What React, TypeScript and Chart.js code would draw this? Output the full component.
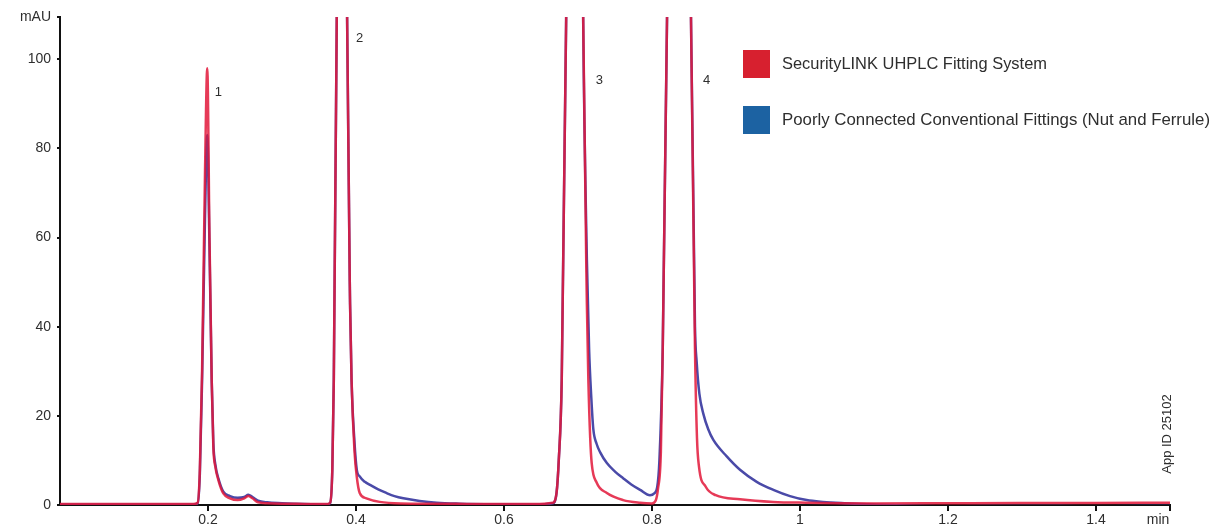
import React, { useEffect, useRef } from 'react';
import { Chart, registerables } from 'chart.js';

Chart.register(...registerables);

const seriesNames = [
  'SecurityLINK UHPLC Fitting System',
  'Poorly Connected Conventional Fittings (Nut and Ferrule)',
];

const redTimes = [
  0, 0.1, 0.18, 0.186, 0.189, 0.192, 0.196, 0.199, 0.202, 0.205, 0.2072, 0.21, 0.214, 0.2207, 0.2297,
  0.24, 0.249, 0.2545, 0.26, 0.2676, 0.28, 0.3, 0.33, 0.36, 0.365, 0.368, 0.37, 0.374, 0.381, 0.388,
  0.392, 0.394, 0.398, 0.401, 0.405, 0.414, 0.432, 0.46, 0.55, 0.64, 0.666, 0.671, 0.674, 0.678, 0.684,
  0.695, 0.707, 0.712, 0.714, 0.7165, 0.7185, 0.7253, 0.739, 0.761, 0.784, 0.8, 0.805, 0.808, 0.812,
  0.8145, 0.8203, 0.8365, 0.8527, 0.8581, 0.8608, 0.8635, 0.8726, 0.8861, 0.9189, 0.9635, 1.009, 1.05,
  1.1, 1.2, 1.3, 1.4, 1.5,
];
const redValues = [
  0.2, 0.2, 0.2, 0.5, 8, 30, 75, 98, 60, 28, 13, 8.5, 5.6, 2.6, 1.5,
  1.1, 1.5, 2.0, 1.5, 0.6, 0.4, 0.3, 0.25, 0.2, 0.5, 8, 28, 109, 350, 109,
  45, 28, 12, 6.4, 2.7, 1.5, 0.7, 0.35, 0.25, 0.2, 0.5, 2.7, 10, 28, 109,
  400, 109, 45, 28, 15, 9.4, 5, 2.7, 1.1, 0.5, 0.35, 1, 3.5, 12,
  35, 109, 400, 109, 35, 15, 8.6, 4.1, 2.2, 1.3, 0.7, 0.5, 0.4,
  0.35, 0.4, 0.45, 0.45, 0.5,
];

const blueTimes = [
  0, 0.1, 0.18, 0.186, 0.189, 0.192, 0.196, 0.199, 0.202, 0.205, 0.2072, 0.21, 0.214, 0.2207, 0.2297,
  0.24, 0.249, 0.2545, 0.26, 0.2676, 0.28, 0.3, 0.33, 0.36, 0.365, 0.368, 0.37, 0.374, 0.381, 0.388,
  0.392, 0.394, 0.398, 0.401, 0.405, 0.412, 0.419, 0.43, 0.441, 0.452, 0.464, 0.486, 0.509, 0.54, 0.6,
  0.64, 0.666, 0.671, 0.674, 0.678, 0.684, 0.695, 0.707, 0.712, 0.715, 0.718, 0.7207, 0.725, 0.73, 0.739,
  0.75, 0.761, 0.772, 0.784, 0.7973, 0.803, 0.807, 0.81, 0.8145, 0.8203, 0.8365, 0.8527, 0.8581,
  0.8604, 0.864, 0.8693, 0.876, 0.8829, 0.901, 0.9189, 0.9415, 0.964, 0.9865, 1.009, 1.031, 1.06, 1.1,
  1.2, 1.3, 1.4, 1.5,
];
const blueValues = [
  0.1, 0.1, 0.1, 0.4, 7, 28, 65, 83, 58, 28, 14, 9, 6, 3, 2,
  1.6, 1.8, 2.3, 1.8, 1.0, 0.6, 0.4, 0.2, 0.1, 0.4, 8, 28, 109, 350, 109,
  45, 28, 14, 8, 6.4, 5.2, 4.5, 3.5, 2.7, 2, 1.5, 0.9, 0.5, 0.3, 0.15,
  0.1, 0.4, 2.7, 10, 28, 109, 400, 109, 55, 35, 24, 17, 13.8, 11.8, 9.4,
  7.5, 6, 4.6, 3.4, 2.2, 2.6, 4, 10, 35, 109, 400, 109, 40,
  32, 25, 20.5, 17, 14.6, 10.9, 7.9, 5.2, 3.4, 2.0, 1.1, 0.7, 0.4, 0.1,
  -0.3, -0.2, -0.3, -0.2,
];

const xTickValues = [0.2, 0.4, 0.6, 0.8, 1.0, 1.2, 1.4, 1.5];
const xMaxLabel = 'min';
const yTickValues = [0, 20, 40, 60, 80, 100, 109.5];
const yMaxLabel = 'mAU';

const peakNames = ['1', '2', '3', '4'];
const peakLabelTimes = [0.209, 0.4, 0.724, 0.869];
const peakLabelValues = [92.5, 104.7, 95.3, 95.3];

const noteText = 'App ID 25102';

const LINE_RED = 'rgba(226, 24, 58, 0.85)';
const LINE_BLUE = '#4a4aa8';
const LEGEND_COLORS = ['#d7202f', '#1c62a2'];
const TEXT = '#2e2e2e';
const FONT = '"Liberation Sans", Arial, sans-serif';
const NARROW = '"Liberation Sans Narrow", "Liberation Sans", Arial, sans-serif';

const overlay = {
  id: 'overlay',
  afterDraw(chart: any) {
    const { ctx } = chart;
    const x = chart.scales.x;
    const y = chart.scales.y;
    ctx.save();
    ctx.fillStyle = TEXT;
    ctx.font = `13px ${FONT}`;
    ctx.textAlign = 'left';
    ctx.textBaseline = 'middle';
    peakNames.forEach((n, i) => {
      ctx.fillText(n, x.getPixelForValue(peakLabelTimes[i]), y.getPixelForValue(peakLabelValues[i]));
    });

    // axis end unit label
    ctx.textAlign = 'center';
    ctx.textBaseline = 'top';
    ctx.font = `14px ${FONT}`;
    ctx.fillText(xMaxLabel, x.getPixelForValue(x.max) - 12, y.bottom + 8);

    const rows = [64, 120];
    const widths = [265, 428];
    ctx.textAlign = 'left';
    ctx.textBaseline = 'middle';
    chart.data.datasets.forEach((ds: any, i: number) => {
      ctx.fillStyle = LEGEND_COLORS[i];
      ctx.fillRect(743, rows[i] - 14, 27, 28);
      ctx.fillStyle = TEXT;
      ctx.font = `17px ${NARROW}`;
      ctx.fillText(ds.label, 782, rows[i], widths[i]);
    });

    ctx.translate(1167, 434);
    ctx.rotate(-Math.PI / 2);
    ctx.textAlign = 'center';
    ctx.font = `13px ${NARROW}`;
    ctx.fillText(noteText, 0, 0, 88);
    ctx.restore();
  },
};

export default function App() {
  const canvasRef = useRef<HTMLCanvasElement | null>(null);

  useEffect(() => {
    document.body.style.margin = '0';
    const canvas = canvasRef.current;
    if (!canvas) return;

    const chart = new Chart(canvas, {
      type: 'line',
      data: {
        datasets: [
          {
            label: seriesNames[0],
            data: redTimes.map((t, i) => ({ x: t, y: redValues[i] })),
            borderColor: LINE_RED,
            backgroundColor: LINE_RED,
            borderWidth: 2.5,
            pointRadius: 0,
            cubicInterpolationMode: 'monotone',
          },
          {
            label: seriesNames[1],
            data: blueTimes.map((t, i) => ({ x: t, y: blueValues[i] })),
            borderColor: LINE_BLUE,
            backgroundColor: LINE_BLUE,
            borderWidth: 2.5,
            pointRadius: 0,
            cubicInterpolationMode: 'monotone',
          },
        ],
      },
      options: {
        animation: false,
        responsive: true,
        maintainAspectRatio: false,
        layout: { padding: { top: 17, right: 43, bottom: 0, left: 0 } },
        plugins: { legend: { display: false }, tooltip: { enabled: false } },
        scales: {
          x: {
            type: 'linear',
            min: 0,
            max: 1.5,
            afterBuildTicks: (s: any) => {
              s.ticks = xTickValues.map((v) => ({ value: v }));
            },
            afterFit: (s: any) => {
              s.height = 26;
            },
            ticks: {
              autoSkip: false,
              maxRotation: 0,
              padding: 1,
              color: TEXT,
              font: { family: FONT, size: 14 },
              callback: (v: any) => (v === 1.5 ? '' : String(Number(Number(v).toFixed(1)))),
            },
            grid: { display: true, drawOnChartArea: false, drawTicks: true, tickLength: 6, color: '#111', lineWidth: 2 },
            border: { display: true, color: '#111', width: 2 },
          },
          y: {
            type: 'linear',
            min: 0,
            max: 109.5,
            afterBuildTicks: (s: any) => {
              s.ticks = yTickValues.map((v) => ({ value: v }));
            },
            afterFit: (s: any) => {
              s.width = 60;
            },
            ticks: {
              autoSkip: false,
              padding: 6,
              color: TEXT,
              font: { family: FONT, size: 14 },
              callback: (v: any) => (v === 109.5 ? yMaxLabel : String(v)),
            },
            grid: { display: true, drawOnChartArea: false, drawTicks: true, tickLength: 3, color: '#111', lineWidth: 2 },
            border: { display: true, color: '#111', width: 2 },
          },
        },
      } as any,
      plugins: [overlay],
    });

    return () => chart.destroy();
  }, []);

  return (
    <div style={{ width: 1213, height: 531, position: 'relative', background: '#fff' }}>
      <canvas ref={canvasRef} />
    </div>
  );
}
